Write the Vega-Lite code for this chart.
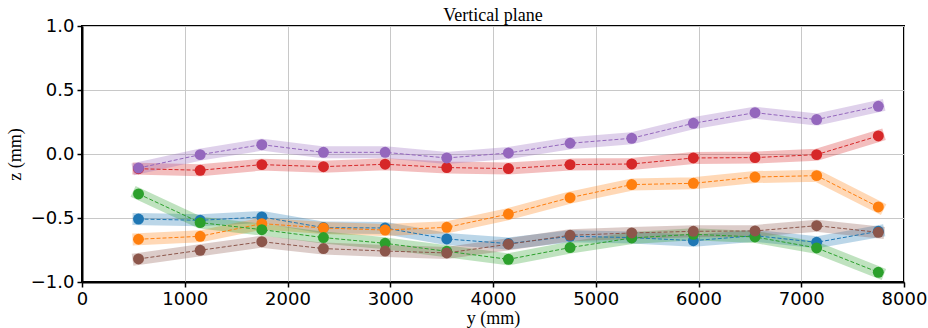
{
  "$schema": "https://vega.github.io/schema/vega-lite/v6.json",
  "autosize": "none",
  "width": 822,
  "height": 256,
  "padding": {"left": 82, "top": 26, "right": 24, "bottom": 46},
  "background": "white",
  "title": {"text": "Vertical plane", "font": "Liberation Serif", "fontSize": 18, "fontWeight": "normal", "color": "black", "anchor": "middle", "frame": "group", "offset": -8},
  "config": {
    "view": {"stroke": "black", "strokeWidth": 2},
    "axis": {
      "domainColor": "black", "domainWidth": 2,
      "tickColor": "black", "tickWidth": 1.5, "tickSize": 5,
      "labelFont": "DejaVu Sans", "labelFontSize": 18, "labelColor": "black", "labelPadding": 3,
      "titleFont": "Liberation Serif", "titleFontSize": 18, "titleFontWeight": "normal", "titleColor": "black",
      "gridColor": "#c8c8c8", "gridWidth": 1, "gridOpacity": 1
    }
  },
  "data": {"values": [
    {"s": "C0", "y": 550, "z": -0.508}, {"s": "C0", "y": 1150, "z": -0.518}, {"s": "C0", "y": 1750, "z": -0.492}, {"s": "C0", "y": 2350, "z": -0.575}, {"s": "C0", "y": 2950, "z": -0.578}, {"s": "C0", "y": 3550, "z": -0.664}, {"s": "C0", "y": 4150, "z": -0.70}, {"s": "C0", "y": 4750, "z": -0.643}, {"s": "C0", "y": 5350, "z": -0.653}, {"s": "C0", "y": 5950, "z": -0.677}, {"s": "C0", "y": 6550, "z": -0.638}, {"s": "C0", "y": 7150, "z": -0.69}, {"s": "C0", "y": 7750, "z": -0.604},
    {"s": "C1", "y": 550, "z": -0.666}, {"s": "C1", "y": 1150, "z": -0.643}, {"s": "C1", "y": 1750, "z": -0.544}, {"s": "C1", "y": 2350, "z": -0.578}, {"s": "C1", "y": 2950, "z": -0.594}, {"s": "C1", "y": 3550, "z": -0.573}, {"s": "C1", "y": 4150, "z": -0.469}, {"s": "C1", "y": 4750, "z": -0.341}, {"s": "C1", "y": 5350, "z": -0.239}, {"s": "C1", "y": 5950, "z": -0.229}, {"s": "C1", "y": 6550, "z": -0.18}, {"s": "C1", "y": 7150, "z": -0.169}, {"s": "C1", "y": 7750, "z": -0.414},
    {"s": "C2", "y": 550, "z": -0.312}, {"s": "C2", "y": 1150, "z": -0.536}, {"s": "C2", "y": 1750, "z": -0.591}, {"s": "C2", "y": 2350, "z": -0.653}, {"s": "C2", "y": 2950, "z": -0.698}, {"s": "C2", "y": 3550, "z": -0.76}, {"s": "C2", "y": 4150, "z": -0.823}, {"s": "C2", "y": 4750, "z": -0.731}, {"s": "C2", "y": 5350, "z": -0.656}, {"s": "C2", "y": 5950, "z": -0.627}, {"s": "C2", "y": 6550, "z": -0.648}, {"s": "C2", "y": 7150, "z": -0.734}, {"s": "C2", "y": 7750, "z": -0.924},
    {"s": "C3", "y": 550, "z": -0.115}, {"s": "C3", "y": 1150, "z": -0.127}, {"s": "C3", "y": 1750, "z": -0.083}, {"s": "C3", "y": 2350, "z": -0.099}, {"s": "C3", "y": 2950, "z": -0.08}, {"s": "C3", "y": 3550, "z": -0.106}, {"s": "C3", "y": 4150, "z": -0.114}, {"s": "C3", "y": 4750, "z": -0.083}, {"s": "C3", "y": 5350, "z": -0.078}, {"s": "C3", "y": 5950, "z": -0.031}, {"s": "C3", "y": 6550, "z": -0.028}, {"s": "C3", "y": 7150, "z": -0.005}, {"s": "C3", "y": 7750, "z": 0.141},
    {"s": "C4", "y": 550, "z": -0.11}, {"s": "C4", "y": 1150, "z": -0.005}, {"s": "C4", "y": 1750, "z": 0.073}, {"s": "C4", "y": 2350, "z": 0.013}, {"s": "C4", "y": 2950, "z": 0.013}, {"s": "C4", "y": 3550, "z": -0.031}, {"s": "C4", "y": 4150, "z": 0.008}, {"s": "C4", "y": 4750, "z": 0.084}, {"s": "C4", "y": 5350, "z": 0.123}, {"s": "C4", "y": 5950, "z": 0.24}, {"s": "C4", "y": 6550, "z": 0.323}, {"s": "C4", "y": 7150, "z": 0.269}, {"s": "C4", "y": 7750, "z": 0.373},
    {"s": "C5", "y": 550, "z": -0.82}, {"s": "C5", "y": 1150, "z": -0.752}, {"s": "C5", "y": 1750, "z": -0.685}, {"s": "C5", "y": 2350, "z": -0.739}, {"s": "C5", "y": 2950, "z": -0.758}, {"s": "C5", "y": 3550, "z": -0.773}, {"s": "C5", "y": 4150, "z": -0.705}, {"s": "C5", "y": 4750, "z": -0.635}, {"s": "C5", "y": 5350, "z": -0.617}, {"s": "C5", "y": 5950, "z": -0.604}, {"s": "C5", "y": 6550, "z": -0.601}, {"s": "C5", "y": 7150, "z": -0.56}, {"s": "C5", "y": 7750, "z": -0.612}
  ]},
  "encoding": {
    "x": {"field": "y", "type": "quantitative", "scale": {"domain": [0, 8000], "nice": false, "zero": false},
          "axis": {"title": "y (mm)", "values": [0,1000,2000,3000,4000,5000,6000,7000,8000], "format": "d", "titlePadding": 1, "labelFlush": false}},
    "y": {"field": "z", "type": "quantitative", "scale": {"domain": [-1, 1], "nice": false},
          "axis": {"title": "z (mm)", "values": [-1,-0.5,0,0.5,1], "format": ".1f", "titlePadding": 6, "labelFlush": false}},
    "color": {"field": "s", "type": "nominal", "legend": null,
              "scale": {"domain": ["C0","C1","C2","C3","C4","C5"], "range": ["#1f77b4","#ff7f0e","#2ca02c","#d62728","#9467bd","#8c564b"]}}
  },
  "layer": [
    {"mark": {"type": "line", "strokeWidth": 12, "opacity": 0.3, "strokeJoin": "round", "strokeCap": "square"}},
    {"mark": {"type": "line", "strokeWidth": 1, "strokeDash": [4, 2]}},
    {"mark": {"type": "point", "filled": true, "opacity": 1, "size": 120, "shape": "circle"}}
  ]
}
